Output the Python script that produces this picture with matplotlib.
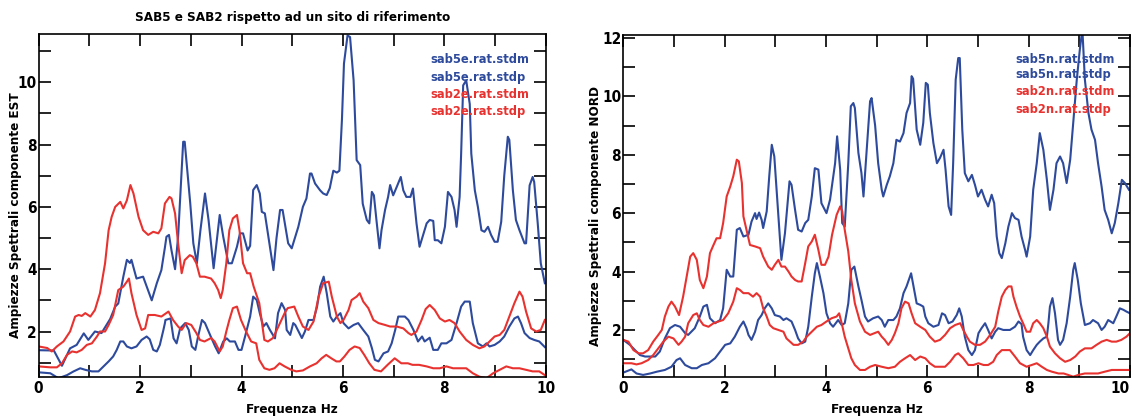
import matplotlib
matplotlib.use("Agg")
import matplotlib.pyplot as plt
from matplotlib.ticker import MultipleLocator
from matplotlib import font_manager

BLUE = "#2d4a9c"
RED = "#e8322f"

title = "SAB5 e SAB2 rispetto ad un sito di riferimento"
xlabel = "Frequenza Hz"
ylabel_left = "Ampiezze Spettrali componente EST"
ylabel_right = "Ampiezze Spettrali componente NORD"
labels_left = ["sab5e.rat.stdm", "sab5e.rat.stdp", "sab2e.rat.stdm", "sab2e.rat.stdp"]
labels_right = ["sab5n.rat.stdm", "sab5n.rat.stdp", "sab2n.rat.stdm", "sab2n.rat.stdp"]

# ---------------- left panel (EST) ----------------
e5p_x = [0.0, 0.30, 0.46, 0.62, 0.75, 0.89, 0.98, 1.11, 1.24, 1.41, 1.51, 1.57, 1.67, 1.74, 1.80, 1.83, 1.93, 2.06, 2.23, 2.33, 2.42, 2.49,
         2.52, 2.57, 2.62, 2.69, 2.75, 2.85, 2.88, 2.99, 3.05, 3.12, 3.19, 3.28, 3.35, 3.45, 3.57, 3.64, 3.74, 3.81, 3.91, 3.97, 4.03, 4.12, 4.17,
         4.23, 4.30, 4.36, 4.40, 4.46, 4.53, 4.63, 4.69, 4.76, 4.81, 4.92, 4.99,
         5.12, 5.21, 5.28, 5.35, 5.38, 5.45, 5.55, 5.61, 5.68, 5.74, 5.81, 5.88, 5.93, 5.98, 6.02, 6.09, 6.14, 6.21, 6.27, 6.34, 6.39, 6.47,
         6.52, 6.57, 6.61, 6.66, 6.72, 6.76, 6.83, 6.89, 6.93, 6.99, 7.06, 7.14, 7.19, 7.25, 7.33, 7.38, 7.45, 7.51,
         7.65, 7.71, 7.78, 7.81, 7.87, 7.94, 8.01, 8.07, 8.14, 8.20, 8.24, 8.30, 8.33, 8.37, 8.43, 8.50, 8.53, 8.60, 8.66, 8.73, 8.79, 8.86,
         8.92, 8.99, 9.05, 9.12, 9.18, 9.25, 9.28, 9.35, 9.41, 9.48, 9.58, 9.61, 9.68, 9.74, 9.77, 9.84, 9.90, 9.98]
e5p_y = [1.40, 1.39, 0.90, 1.46, 1.57, 1.94, 1.73, 2.00, 1.95, 2.40, 2.80, 2.90, 3.76, 4.30, 4.20, 4.30, 3.70, 3.76, 3.00, 3.55, 3.97, 4.70,
         5.04, 5.10, 4.60, 4.00, 5.04, 8.09, 8.09, 6.10, 4.83, 4.19, 5.25, 6.43, 5.58, 4.03, 5.74, 5.04, 4.19, 4.19, 4.72, 5.15, 5.15, 4.60, 4.75,
         6.54, 6.70, 6.43, 5.84, 5.79, 5.04, 3.97, 5.00, 5.90, 5.90, 4.83, 4.67,
         5.36, 6.00, 6.27, 7.07, 7.07, 6.75, 6.53, 6.43, 6.38, 6.60, 7.16, 7.10, 7.16, 8.80, 10.60, 11.50, 11.45, 10.06, 7.50, 7.34, 6.10, 5.58,
         5.47, 6.48, 6.37, 5.58, 4.67, 5.25, 5.90, 6.32, 6.70, 6.37, 6.64, 6.96, 6.53, 6.32, 6.32, 6.59, 5.47, 4.72,
         5.47, 5.58, 5.55, 4.93, 4.93, 4.83, 5.36, 6.48, 6.32, 5.90, 5.36, 6.32, 7.71, 9.90, 10.06, 9.30, 7.71, 6.53, 6.00, 5.25, 5.20, 5.36,
         5.10, 4.88, 4.88, 5.52, 7.00, 8.25, 8.15, 6.53, 5.58, 5.25, 4.83, 4.83, 6.69, 6.96, 6.80, 5.47, 4.19, 3.55]

e5m_x = [0.0, 0.23, 0.39, 0.56, 0.69, 0.82, 0.92, 1.05, 1.18, 1.28, 1.38, 1.47, 1.54, 1.61, 1.67, 1.74, 1.83, 1.93, 2.03, 2.13, 2.19, 2.26, 2.33, 2.39, 2.46, 2.49,
         2.50, 2.60, 2.66, 2.72, 2.79, 2.89, 2.96, 3.02, 3.09, 3.15, 3.22, 3.28, 3.38, 3.48, 3.55, 3.64, 3.71, 3.77, 3.87, 3.94, 4.00, 4.07, 4.17,
         4.23, 4.30, 4.36, 4.43, 4.49, 4.56, 4.66, 4.72, 4.79, 4.86, 4.89, 4.96, 5.02,
         5.06, 5.19, 5.25, 5.32, 5.42, 5.49, 5.55, 5.62, 5.68, 5.75, 5.81, 5.88, 5.95, 6.01, 6.11, 6.21, 6.30, 6.40, 6.50, 6.57, 6.63, 6.70,
         6.80, 6.89, 6.96, 7.03, 7.09, 7.22, 7.29, 7.39, 7.48, 7.56,
         7.61, 7.71, 7.78, 7.87, 7.94, 8.04, 8.14, 8.24, 8.33, 8.40, 8.50, 8.56, 8.66, 8.76, 8.83, 8.89, 8.99, 9.09, 9.18, 9.28, 9.38, 9.45,
         9.51, 9.58, 9.68, 9.77, 9.87, 9.98]
e5m_y = [0.69, 0.66, 0.50, 0.60, 0.72, 0.82, 0.77, 0.72, 0.72, 0.88, 1.04, 1.20, 1.41, 1.68, 1.68, 1.52, 1.46, 1.52, 1.73, 1.84, 1.75, 1.41, 1.36, 1.57, 2.05, 2.27,
         2.37, 2.42, 1.78, 1.62, 2.10, 2.27, 2.05, 1.52, 1.41, 1.89, 2.37, 2.27, 1.89, 1.52, 1.30, 1.68, 1.78, 1.68, 1.68, 1.41, 1.41, 1.84, 2.48,
         3.12, 3.01, 2.59, 2.16, 2.27, 2.05, 1.78, 2.59, 2.91, 2.69, 2.05, 1.89, 2.27,
         2.21, 1.79, 2.00, 2.37, 2.37, 2.80, 3.44, 3.76, 3.23, 2.48, 2.32, 2.48, 2.59, 2.27, 2.10, 2.21, 2.27, 2.05, 1.84, 1.47, 1.09, 1.04,
         1.30, 1.36, 1.62, 2.05, 2.48, 2.48, 2.37, 2.05, 1.68, 1.84,
         1.68, 1.80, 1.41, 1.41, 1.62, 1.62, 1.73, 2.27, 2.80, 2.96, 2.96, 2.27, 1.62, 1.52, 1.62, 1.52, 1.57, 1.68, 1.84, 2.16, 2.42, 2.48,
         2.27, 1.95, 1.79, 1.73, 1.68, 1.50]

e2p_x = [0.0, 0.17, 0.26, 0.36, 0.49, 0.62, 0.72, 0.79, 0.85, 0.92, 1.02, 1.11, 1.21, 1.31, 1.38, 1.44, 1.51, 1.61, 1.67, 1.74, 1.81, 1.87, 1.97, 2.06, 2.16, 2.26, 2.36, 2.42, 2.49,
         2.58, 2.62, 2.69, 2.75, 2.82, 2.88, 2.98, 3.04, 3.11, 3.18, 3.27, 3.40, 3.47, 3.54, 3.59, 3.63, 3.70, 3.76, 3.83, 3.91, 3.96, 4.03, 4.11,
         4.17, 4.24, 4.35, 4.45, 4.52, 4.62, 4.71, 4.85, 4.91, 5.04,
         5.12, 5.21, 5.32, 5.42, 5.52, 5.61, 5.72, 5.78, 5.88, 5.95, 6.01, 6.11, 6.17, 6.27, 6.33, 6.40, 6.50, 6.60, 6.70, 6.83, 6.93, 7.06,
         7.19, 7.29, 7.35, 7.45, 7.55, 7.63,
         7.71, 7.81, 7.91, 8.01, 8.10, 8.20, 8.30, 8.43, 8.56, 8.69, 8.79, 8.89, 8.99, 9.09, 9.18, 9.28, 9.38, 9.48, 9.54, 9.61, 9.71, 9.81, 9.90, 9.98]
e2p_y = [1.52, 1.47, 1.36, 1.52, 1.68, 2.00, 2.48, 2.53, 2.50, 2.59, 2.48, 2.69, 3.23, 4.19, 5.25, 5.68, 6.00, 6.16, 5.95, 6.21, 6.70, 6.43, 5.68, 5.25, 5.10, 5.20, 5.15, 5.31, 6.11,
         6.32, 6.27, 5.79, 4.83, 3.87, 4.29, 4.45, 4.40, 4.19, 3.76, 3.76, 3.70, 3.55, 3.33, 3.07, 3.33, 4.19, 5.25, 5.63, 5.74, 5.25, 4.19, 3.87,
         3.87, 3.44, 2.91, 1.73, 1.68, 1.79, 2.10, 2.59, 2.75, 2.80,
         2.48, 2.16, 2.05, 2.32, 3.12, 3.55, 3.60, 3.12, 2.48, 2.27, 2.37, 2.69, 3.01, 3.12, 3.23, 2.96, 2.75, 2.37, 2.27, 2.21, 2.16, 2.16,
         2.10, 1.95, 1.89, 2.00, 2.37, 2.72,
         2.85, 2.69, 2.42, 2.32, 2.37, 2.27, 2.00, 1.73, 1.57, 1.46, 1.52, 1.68, 1.84, 1.89, 2.05, 2.48, 2.91, 3.28, 3.12, 2.64, 2.10, 2.00, 2.05, 2.37]

e2m_x = [0.0, 0.23, 0.36, 0.46, 0.56, 0.66, 0.75, 0.85, 0.95, 1.05, 1.15, 1.21, 1.31, 1.38, 1.47, 1.57, 1.67, 1.74, 1.78, 1.83, 1.93, 2.03, 2.10, 2.16, 2.29, 2.42,
         2.56, 2.65, 2.75, 2.82, 2.91, 3.01, 3.11, 3.18, 3.27, 3.40, 3.47, 3.57, 3.63, 3.70, 3.76, 3.83, 3.91, 3.99, 4.09, 4.19, 4.29, 4.35,
         4.45, 4.55, 4.65, 4.75, 4.85, 4.98,
         5.08, 5.21, 5.35, 5.48, 5.58, 5.67, 5.77, 5.87, 5.94, 6.03, 6.13, 6.23, 6.33, 6.42, 6.52, 6.62, 6.75, 6.88, 7.02, 7.15, 7.28, 7.37, 7.50,
         7.65, 7.78, 7.91, 8.04, 8.17, 8.30, 8.43, 8.56, 8.69, 8.83, 8.96, 9.09, 9.22, 9.35, 9.48, 9.61, 9.74, 9.87, 9.98]
e2m_y = [0.88, 0.85, 0.85, 0.98, 1.25, 1.36, 1.33, 1.41, 1.57, 1.62, 1.84, 2.00, 2.00, 2.21, 2.53, 3.33, 3.44, 3.60, 3.70, 3.23, 2.53, 2.05, 2.10, 2.53, 2.53, 2.48,
         2.64, 2.37, 2.16, 2.05, 2.27, 2.21, 1.95, 1.73, 1.68, 1.79, 1.68, 1.36, 1.52, 2.00, 2.37, 2.75, 2.80, 2.37, 2.00, 1.68, 1.62, 1.09,
         0.82, 0.77, 0.82, 0.98, 0.88, 0.77,
         0.72, 0.75, 0.88, 0.98, 1.14, 1.25, 1.14, 1.04, 1.04, 1.20, 1.41, 1.52, 1.47, 1.25, 0.98, 0.77, 0.72, 0.93, 1.14, 0.98, 0.98, 0.93, 0.93,
         0.88, 0.82, 0.82, 0.88, 0.82, 0.82, 0.82, 0.66, 0.55, 0.50, 0.66, 0.77, 0.88, 0.82, 0.82, 0.77, 0.72, 0.72, 0.60]

# ---------------- right panel (NORD) ----------------
n5p_x = [0.0, 0.13, 0.23, 0.33, 0.43, 0.63, 0.72, 0.82, 0.92, 1.02, 1.12, 1.22, 1.28, 1.41, 1.51, 1.58, 1.65, 1.71, 1.81, 1.91, 1.97, 2.04, 2.11, 2.17, 2.24, 2.30, 2.37,
         2.47, 2.53, 2.60, 2.63, 2.68, 2.73, 2.76, 2.83, 2.88, 2.93, 2.98, 3.06, 3.12, 3.19, 3.28, 3.32, 3.39, 3.45, 3.52, 3.59, 3.65, 3.72, 3.78,
         3.85, 3.91, 4.01, 4.08, 4.18, 4.22, 4.28, 4.32, 4.37, 4.44, 4.49, 4.54, 4.57, 4.64, 4.70, 4.74, 4.80, 4.87, 4.90, 4.97,
         5.03, 5.10, 5.13, 5.20, 5.26, 5.33, 5.39, 5.46, 5.53, 5.59, 5.66, 5.69, 5.72, 5.79, 5.86, 5.92, 5.97, 6.01, 6.05, 6.12, 6.19, 6.25, 6.32,
         6.36, 6.42, 6.47, 6.51, 6.56, 6.61, 6.64, 6.69, 6.74, 6.81, 6.88, 6.94, 7.00, 7.07, 7.14, 7.20, 7.27, 7.32, 7.37, 7.42, 7.47, 7.54,
         7.60, 7.67, 7.73, 7.80, 7.86, 7.93, 7.96, 8.03, 8.09, 8.16, 8.22, 8.29, 8.36, 8.42, 8.49, 8.55, 8.62, 8.68, 8.75, 8.82, 8.88, 8.95,
         9.01, 9.06, 9.11, 9.18, 9.24, 9.31, 9.37, 9.44, 9.50, 9.57, 9.64, 9.70, 9.77, 9.84, 9.90, 9.98]
n5p_y = [1.66, 1.49, 1.31, 1.14, 1.09, 1.09, 1.26, 1.71, 2.06, 2.17, 2.11, 1.89, 1.83, 2.06, 2.46, 2.80, 2.86, 2.40, 2.23, 2.34, 2.74, 4.06, 3.83, 3.83, 5.43, 5.49, 5.20,
         5.26, 5.71, 6.00, 5.80, 6.02, 5.77, 5.49, 6.06, 7.26, 8.34, 7.94, 5.89, 4.40, 5.31, 7.09, 6.97, 6.11, 5.43, 5.37, 5.66, 5.77, 6.57, 7.54,
         7.49, 6.34, 6.00, 6.46, 7.71, 8.63, 7.49, 5.66, 5.54, 7.71, 9.66, 9.77, 9.60, 8.06, 7.37, 6.57, 8.06, 9.83, 9.94, 9.00,
         7.71, 6.80, 6.57, 6.97, 7.26, 7.71, 8.51, 8.45, 8.74, 9.43, 9.77, 10.69, 10.60, 8.86, 8.34, 9.09, 10.46, 10.40, 9.43, 8.40, 7.71, 7.89, 8.17,
         7.49, 6.23, 5.94, 7.71, 10.57, 11.31, 11.31, 8.86, 7.37, 7.09, 7.31, 6.97, 6.57, 6.80, 6.46, 6.23, 6.63, 6.34, 5.20, 4.63, 4.46, 4.97,
         5.54, 6.00, 5.83, 5.77, 5.20, 4.74, 4.51, 5.20, 6.80, 7.71, 8.74, 8.17, 7.14, 6.11, 6.80, 7.71, 7.94, 7.71, 7.03, 7.83, 9.09, 10.57,
         11.60, 12.30, 10.57, 9.43, 8.86, 8.51, 7.71, 6.91, 6.11, 5.77, 5.31, 5.66, 6.34, 7.14, 7.03, 6.80]

n5m_x = [0.0, 0.16, 0.26, 0.39, 0.53, 0.66, 0.82, 0.95, 1.05, 1.12, 1.22, 1.35, 1.45, 1.55, 1.68, 1.81, 1.91, 2.01, 2.11, 2.20, 2.30, 2.37, 2.43, 2.47, 2.53,
         2.60, 2.66, 2.73, 2.79, 2.86, 2.93, 2.99, 3.09, 3.16, 3.22, 3.32, 3.39, 3.45, 3.52, 3.59, 3.65, 3.72, 3.78, 3.82, 3.88, 3.95, 4.01,
         4.08, 4.14, 4.24, 4.31, 4.37, 4.44, 4.50, 4.56, 4.64, 4.70, 4.77, 4.83, 4.93, 5.03, 5.10, 5.16, 5.23, 5.33, 5.39, 5.46, 5.53, 5.59,
         5.68, 5.74, 5.79, 5.86, 5.92, 5.96, 6.02, 6.12, 6.22, 6.29, 6.35, 6.42, 6.50, 6.58, 6.63, 6.68, 6.74, 6.81, 6.88, 6.94, 7.01, 7.07,
         7.14, 7.20, 7.27, 7.34, 7.40, 7.50, 7.63, 7.73, 7.80, 7.86, 7.89, 7.96, 8.03, 8.09, 8.16, 8.22, 8.29, 8.36, 8.39, 8.42, 8.47, 8.52,
         8.58, 8.62, 8.68, 8.75, 8.82, 8.88, 8.91, 8.97, 9.03, 9.11, 9.21, 9.27, 9.37, 9.44, 9.50, 9.57, 9.67, 9.73, 9.80, 9.87, 9.93, 10.0]
n5m_y = [0.54, 0.65, 0.51, 0.46, 0.51, 0.57, 0.63, 0.74, 0.97, 1.03, 0.80, 0.69, 0.69, 0.80, 0.86, 1.03, 1.26, 1.49, 1.54, 1.77, 2.11, 2.29, 2.06, 1.83, 1.66,
         1.94, 2.34, 2.51, 2.74, 2.91, 2.74, 2.51, 2.46, 2.34, 2.40, 2.29, 2.00, 1.71, 1.54, 1.60, 2.11, 3.14, 3.94, 4.29, 3.83, 3.26, 2.57,
         2.23, 2.11, 2.34, 2.17, 2.23, 2.91, 4.06, 4.17, 3.49, 3.03, 2.46, 2.29, 2.40, 2.46, 2.34, 2.11, 2.34, 2.34, 2.46, 2.74, 3.26, 3.49,
         3.94, 3.37, 2.91, 2.86, 2.80, 2.46, 2.23, 2.11, 2.17, 2.57, 2.51, 2.23, 2.29, 2.51, 2.74, 2.46, 1.77, 1.31, 1.14, 1.31, 1.89, 2.06,
         2.23, 2.00, 1.71, 1.94, 2.06, 2.00, 2.00, 2.11, 2.29, 2.20, 1.77, 1.31, 1.14, 1.31, 1.49, 1.60, 1.71, 1.77, 2.23, 2.80, 3.09, 2.57,
         1.66, 1.49, 1.66, 2.23, 3.14, 4.06, 4.29, 3.71, 2.91, 2.17, 2.23, 2.34, 2.23, 2.00, 2.11, 2.34, 2.23, 2.46, 2.74, 2.69, 2.63, 2.57]

n2p_x = [0.0, 0.10, 0.20, 0.30, 0.39, 0.49, 0.59, 0.69, 0.76, 0.82, 0.89, 0.95, 1.02, 1.10, 1.18, 1.25, 1.32, 1.38, 1.45, 1.51, 1.58, 1.65, 1.71, 1.78, 1.84, 1.91,
         1.97, 2.04, 2.11, 2.17, 2.24, 2.28, 2.34, 2.37, 2.43, 2.50, 2.60, 2.70, 2.76, 2.86, 2.93, 2.99, 3.06, 3.12, 3.19, 3.26, 3.32, 3.39, 3.45,
         3.52, 3.59, 3.65, 3.72, 3.78, 3.85, 3.91, 3.98, 4.05, 4.12, 4.21, 4.28, 4.32, 4.37, 4.44, 4.50, 4.57, 4.67, 4.77, 4.87, 4.97, 5.03,
         5.10, 5.16, 5.23, 5.30, 5.36, 5.43, 5.49, 5.56, 5.63, 5.69, 5.76, 5.86, 5.96, 6.05, 6.15, 6.25, 6.35, 6.45, 6.55, 6.65, 6.71, 6.78,
         6.84, 6.94, 7.04, 7.14, 7.24, 7.34, 7.40, 7.47, 7.54, 7.60, 7.66, 7.70, 7.76, 7.83, 7.89, 7.96, 8.03, 8.09, 8.16, 8.22, 8.29, 8.36,
         8.42, 8.52, 8.62, 8.72, 8.82, 8.92, 9.01, 9.11, 9.24, 9.34, 9.44, 9.54, 9.64, 9.73, 9.83, 9.93, 10.0]
n2p_y = [1.66, 1.60, 1.31, 1.20, 1.20, 1.31, 1.60, 1.83, 2.00, 2.46, 2.80, 2.97, 2.80, 2.51, 3.14, 3.83, 4.51, 4.63, 4.40, 3.71, 3.43, 3.83, 4.63, 4.91, 5.14, 5.14,
         5.66, 6.57, 6.91, 7.26, 7.83, 7.77, 7.03, 5.89, 5.43, 4.91, 4.86, 4.80, 4.51, 4.17, 4.06, 4.23, 4.40, 4.17, 4.17, 4.00, 3.83, 3.71, 3.66,
         3.66, 4.29, 4.86, 5.03, 5.26, 4.74, 4.23, 4.23, 4.51, 5.26, 5.94, 6.23, 6.06, 5.43, 4.69, 3.71, 2.91, 2.29, 1.94, 1.83, 1.90, 1.94,
         1.77, 1.66, 1.49, 1.66, 1.89, 2.23, 2.74, 2.97, 2.91, 2.57, 2.23, 2.11, 2.00, 1.77, 1.60, 1.66, 1.83, 2.06, 2.17, 2.23, 2.00, 1.77,
         1.60, 1.49, 1.49, 1.60, 1.83, 2.11, 2.63, 3.14, 3.37, 3.49, 3.49, 3.14, 2.80, 2.46, 2.23, 1.94, 1.94, 2.23, 2.34, 2.23, 2.06, 1.77,
         1.43, 1.20, 1.03, 0.91, 0.97, 1.09, 1.26, 1.37, 1.37, 1.49, 1.60, 1.66, 1.60, 1.60, 1.66, 1.77, 1.89]

n2m_x = [0.0, 0.16, 0.26, 0.36, 0.49, 0.59, 0.69, 0.79, 0.89, 0.99, 1.09, 1.15, 1.22, 1.28, 1.38, 1.45, 1.51, 1.58, 1.68, 1.78, 1.88, 1.97, 2.07, 2.17, 2.24,
         2.30, 2.37, 2.47, 2.56, 2.63, 2.70, 2.76, 2.83, 2.89, 2.96, 3.06, 3.16, 3.22, 3.29, 3.36, 3.45, 3.55, 3.62, 3.72, 3.82, 3.91, 4.01,
         4.11, 4.21, 4.26, 4.31, 4.37, 4.44, 4.50, 4.57, 4.67, 4.77, 4.87, 4.97, 5.10, 5.23, 5.36, 5.46, 5.56, 5.66, 5.76, 5.86, 5.96, 6.05,
         6.15, 6.25, 6.35, 6.45, 6.55, 6.61, 6.71, 6.81, 6.91, 7.01, 7.11, 7.20, 7.30, 7.37, 7.47, 7.57, 7.63, 7.73, 7.83, 7.96, 8.06, 8.16,
         8.26, 8.36, 8.46, 8.59, 8.69, 8.78, 8.88, 8.98, 9.11, 9.24, 9.37, 9.50, 9.64, 9.77, 9.90, 10.0]
n2m_y = [0.86, 0.86, 0.82, 0.86, 0.97, 1.14, 1.37, 1.60, 1.77, 1.71, 1.49, 1.60, 1.77, 2.23, 2.51, 2.57, 2.34, 2.17, 2.11, 2.23, 2.29, 2.34, 2.57, 2.97, 3.43,
         3.37, 3.26, 3.26, 3.14, 3.26, 3.14, 2.74, 2.46, 2.17, 2.06, 2.00, 1.94, 1.71, 1.60, 1.49, 1.49, 1.60, 1.77, 1.94, 2.11, 2.17, 2.29,
         2.40, 2.46, 2.57, 2.23, 1.77, 1.37, 1.03, 0.80, 0.63, 0.63, 0.74, 0.80, 0.74, 0.69, 0.74, 0.91, 1.03, 1.14, 0.97, 1.09, 1.03, 0.86,
         0.74, 0.74, 0.74, 0.91, 1.14, 1.20, 1.03, 0.80, 0.80, 0.86, 0.80, 0.80, 0.91, 1.14, 1.31, 1.31, 1.31, 1.09, 0.86, 0.74, 0.80, 0.86,
         0.74, 0.63, 0.57, 0.51, 0.51, 0.46, 0.40, 0.46, 0.51, 0.51, 0.51, 0.57, 0.63, 0.63, 0.63, 0.63]

# font choice: a narrow bold face resembles the original plotting font
_files = [f.fname for f in font_manager.fontManager.ttflist]
_names = {f.name for f in font_manager.fontManager.ttflist}
if "Liberation Sans Narrow" in _names:
    FONT = ["Liberation Sans Narrow", "DejaVu Sans"]
    STRETCH = "normal"
    FS_TXT, FS_LEG, FS_TICK = 11.0, 10.5, 12.0
elif any("DejaVuSansCondensed-Bold" in f for f in _files):
    FONT = ["DejaVu Sans"]
    STRETCH = "condensed"
    FS_TXT, FS_LEG, FS_TICK = 9.6, 9.2, 11.0
else:
    FONT = ["DejaVu Sans"]
    STRETCH = "normal"
    FS_TXT, FS_LEG, FS_TICK = 8.8, 8.5, 10.0

fig = plt.figure(figsize=(11.36, 4.19), dpi=100)
fig.patch.set_facecolor("white")

axL = fig.add_axes([0.034, 0.101, 0.4465, 0.818])
axR = fig.add_axes([0.5487, 0.101, 0.446, 0.8155])

def style(ax, ylim, ylabel, label_x):
    ax.set_xlim(0, 10)
    ax.set_ylim(*ylim)
    ax.xaxis.set_major_locator(MultipleLocator(2))
    ax.xaxis.set_minor_locator(MultipleLocator(1))
    ax.yaxis.set_major_locator(MultipleLocator(2))
    ax.yaxis.set_minor_locator(MultipleLocator(1))
    ax.tick_params(which="both", direction="in", top=True, right=True,
                   length=8.5, width=1.2, pad=1.5, labelsize=FS_TICK)
    ax.tick_params(axis="x", pad=3)
    for lab in ax.get_xticklabels() + ax.get_yticklabels():
        lab.set_fontweight("bold")
        lab.set_family(FONT)
        lab.set_stretch(STRETCH)
    for sp in ax.spines.values():
        sp.set_linewidth(1.2)
    ax.set_xlabel(xlabel, fontsize=FS_TXT, fontweight="bold", family=FONT,
                  stretch=STRETCH, labelpad=5)
    ax.set_ylabel(ylabel, fontsize=FS_TXT, fontweight="bold", family=FONT,
                  stretch=STRETCH)
    ax.yaxis.set_label_coords(label_x, 0.47)

lw = 1.5
axL.plot(e5m_x, e5m_y, color=BLUE, lw=lw)
axL.plot(e5p_x, e5p_y, color=BLUE, lw=lw)
axL.plot(e2m_x, e2m_y, color=RED, lw=lw)
axL.plot(e2p_x, e2p_y, color=RED, lw=lw)
style(axL, (0.55, 11.55), ylabel_left, -0.032)
axL.set_title(title, fontsize=FS_TXT, fontweight="bold", family=FONT,
              stretch=STRETCH, pad=9)

axR.plot(n5m_x, n5m_y, color=BLUE, lw=lw)
axR.plot(n5p_x, n5p_y, color=BLUE, lw=lw)
axR.plot(n2m_x, n2m_y, color=RED, lw=lw)
axR.plot(n2p_x, n2p_y, color=RED, lw=lw)
style(axR, (0.4, 12.1), ylabel_right, -0.043)

# the right-most x tick label sits at the figure edge: keep it inside
fig.canvas.draw()
for t in axR.get_xticklabels():
    if t.get_text() in ("10", "10.0"):
        t.set_horizontalalignment("right")

cols = [BLUE, BLUE, RED, RED]
for ax, labs, x0, ys in [(axL, labels_left, 0.772, [0.924, 0.872, 0.824, 0.775]),
                         (axR, labels_right, 0.773, [0.929, 0.885, 0.834, 0.783])]:
    for lab, c, yy in zip(labs, cols, ys):
        ax.text(x0, yy, lab, transform=ax.transAxes, color=c, fontsize=FS_LEG,
                fontweight="bold", family=FONT, stretch=STRETCH,
                va="center", ha="left")

fig.savefig("out.png", dpi=100, facecolor="white")
